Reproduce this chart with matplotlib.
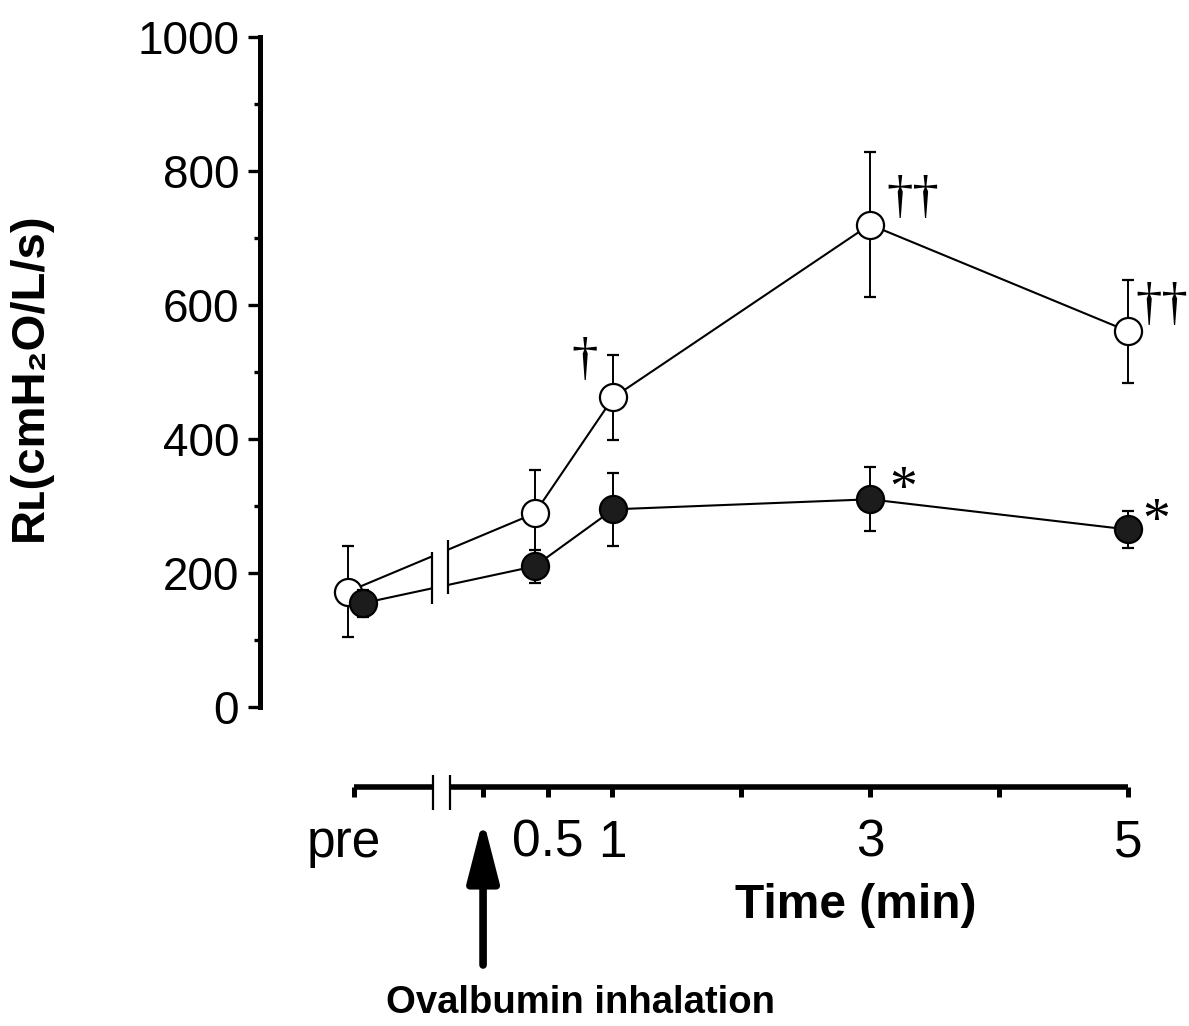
import matplotlib
matplotlib.use("Agg")
import matplotlib.pyplot as plt
from matplotlib.ticker import MultipleLocator
from matplotlib.transforms import ScaledTranslation

# time points (min); "pre" is drawn at about -1, the two groups slightly offset
time_open = [-1.05, 0.40, 1.01, 3.0, 5.0]
time_filled = [-0.93, 0.40, 1.01, 3.0, 5.0]

# RL (cmH2O/L/s), mean and error
open_mean = [172, 289, 462, 720, 561]
open_err = [68, 65, 64, 108, 77]
filled_mean = [155, 210, 295, 310, 265]
filled_err = [20, 25, 55, 48, 27]

# significance marks: (x, y, text)
open_marks = [(0.79, 517, "\u2020"), (3.33, 758, "\u2020\u2020"), (5.26, 598, "\u2020\u2020")]
filled_marks = [(3.26, 323, "*"), (5.22, 275, "*")]

x_ticks = [-1, 0, 0.5, 1, 2, 3, 4, 5]
x_labels = ["pre", "", "0.5", "1", "", "3", "", "5"]
break_lo, break_hi = -0.395, -0.27

plt.rcParams['font.family'] = ['Liberation Sans', 'DejaVu Sans']

W, H = 1189, 1026
fig = plt.figure(figsize=(W / 100, H / 100), dpi=100)
xlim = (-1.73, 5.25)

ax = fig.add_axes([260 / W, 1 - 707 / H, 900 / W, (707 - 37) / H])
ax.set_xlim(*xlim)
ax.set_ylim(0, 1000)

ax.errorbar(time_open, open_mean, yerr=open_err, fmt='o', ms=19.5, mfc='white',
            mec='black', mew=1.6, ecolor='black', elinewidth=1.4, capsize=4.3,
            capthick=1.4, color='black', ls='-', lw=1.5, zorder=3, clip_on=False)
ax.errorbar(time_filled, filled_mean, yerr=filled_err, fmt='o', ms=19.5, mfc='#1c1c1c',
            mec='black', mew=1.6, ecolor='black', elinewidth=1.4, capsize=4.3,
            capthick=1.4, color='black', ls='-', lw=1.5, zorder=4, clip_on=False)

# axis break on the data lines
ax.axvspan(break_lo, break_hi, color='white', zorder=5, lw=0)
ax.vlines([break_lo], 153, 231, color='black', lw=1.6, zorder=6)
ax.vlines([break_hi], 169, 249, color='black', lw=1.6, zorder=6)

for x, y, s in open_marks:
    ax.text(x, y, s, fontsize=38, family='Liberation Serif', ha='center', va='center')
for x, y, s in filled_marks:
    ax.text(x, y, s, fontsize=40, family='Liberation Serif', ha='center', va='center')

for side in ['top', 'right', 'bottom']:
    ax.spines[side].set_visible(False)
ax.spines['left'].set_linewidth(3.6)
ax.spines['left'].set_bounds(0, 1000)
ax.set_xticks([])
ax.yaxis.set_major_locator(MultipleLocator(200))
ax.yaxis.set_minor_locator(MultipleLocator(100))
ax.tick_params(axis='y', which='major', length=9, width=2.4, labelsize=33, pad=6)
ax.tick_params(axis='y', which='minor', length=4, width=2.4)

# separate time axis
ax2 = fig.add_axes([260 / W, 1 - 787 / H, 900 / W, 40 / H])
ax2.set_xlim(*xlim)
ax2.set_ylim(0, 1)
for side in ax2.spines:
    ax2.spines[side].set_visible(False)
ax2.set_yticks([])
ax2.set_xticks(x_ticks)
ax2.set_xticklabels(x_labels)
ax2.tick_params(axis='x', length=7, width=3.6, labelsize=37, pad=16)
pre_lbl = ax2.get_xticklabels()[0]
pre_lbl.set_transform(pre_lbl.get_transform() + ScaledTranslation(-0.1, 0, fig.dpi_scale_trans))
ax2.hlines([0, 0], [-1, -0.255], [-0.39, 5], color='black', lw=4, clip_on=False)
ax2.vlines([-0.39, -0.255], -0.58, 0.3, color='black', lw=1.6, clip_on=False)
ax2.annotate("", xy=(0, -0.8), xytext=(0, -4.45), annotation_clip=False,
             arrowprops=dict(arrowstyle='-|>,head_length=37,head_width=9.5',
                             mutation_scale=1, lw=5.5, color='black',
                             shrinkA=0, shrinkB=0))

fig.text(856 / W, 1 - 905 / H, "Time (min)", fontsize=34.5, fontweight='bold',
         ha='center', va='center')
fig.text(580 / W, 1 - 1003 / H, "Ovalbumin inhalation", fontsize=27.5,
         fontweight='bold', ha='center', va='center')
fig.text(30 / W, 1 - 377 / H, "R\u029f(cmH\u2082O/L/s)", fontsize=34,
         fontweight='bold', rotation=90, ha='center', va='center')

fig.savefig("out.png", dpi=100)
